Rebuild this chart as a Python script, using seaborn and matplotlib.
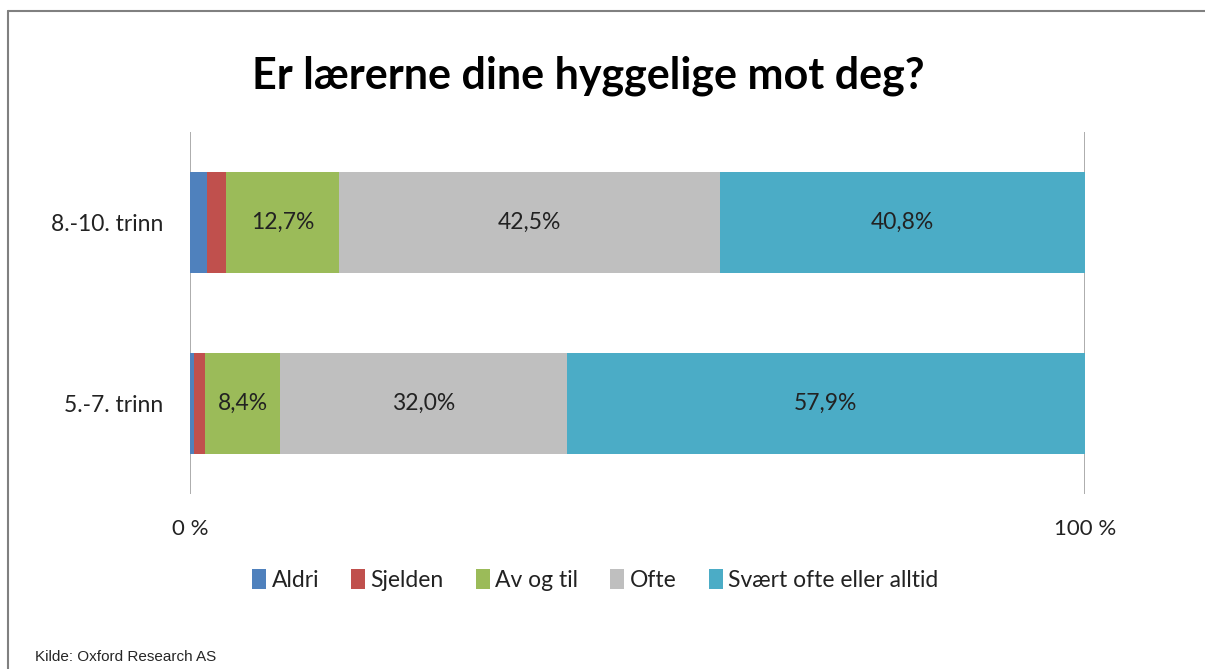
import matplotlib
matplotlib.use("Agg")
import matplotlib.pyplot as plt
import seaborn as sns
import pandas as pd
from matplotlib.lines import Line2D

# Chart data (percent)
grades = ["8.-10. trinn", "5.-7. trinn"]
categories = ["Aldri", "Sjelden", "Av og til", "Ofte", "Svært ofte eller alltid"]
aldri = [1.9, 0.4]
sjelden = [2.1, 1.3]
av_og_til = [12.7, 8.4]
ofte = [42.5, 32.0]
svaert = [40.8, 57.9]
colors = ["#4F81BD", "#C0504D", "#9BBB59", "#BFBFBF", "#4BACC6"]
labelled = ["Av og til", "Ofte", "Svært ofte eller alltid"]

sns.set_theme(style="white")
plt.rcParams["font.family"] = ["Lato", "DejaVu Sans"]

df = pd.DataFrame({"grade": grades, "Aldri": aldri, "Sjelden": sjelden,
                   "Av og til": av_og_til, "Ofte": ofte,
                   "Svært ofte eller alltid": svaert})
cum = df[categories].cumsum(axis=1)

fig = plt.figure(figsize=(12.05, 6.69), dpi=100)
ax = fig.add_axes([190 / 1205, 1 - 494 / 669, 895 / 1205, 362 / 669])

# stacked bars: draw cumulative totals from the back to the front
for cat, col in reversed(list(zip(categories, colors))):
    sns.barplot(x=cum[cat], y=df["grade"], color=col, saturation=1,
                width=0.56, orient="h", ax=ax, label=cat, linewidth=0)

# segment labels
for cat in labelled:
    for i, g in enumerate(grades):
        val = df.loc[i, cat]
        mid = cum.loc[i, cat] - val / 2
        ax.text(mid, i, f"{val:.1f}".replace(".", ",") + "%", ha="center",
                va="center", fontsize=16.5, color="#222222")

ax.set_xlim(0, 100)
ax.set_ylim(1.5, -0.5)
ax.set_xticks([0, 100])
ax.set_xticklabels(["0 %", "100 %"])
ax.set_xlabel("")
ax.set_ylabel("")
ax.xaxis.grid(True, color="#A6A6A6", linewidth=1.3)
ax.set_axisbelow(True)
for s in ax.spines.values():
    s.set_visible(False)
ax.tick_params(axis="x", length=0, pad=18, labelsize=16, labelcolor="#222222")
ax.tick_params(axis="y", length=0, pad=19, labelsize=16.5, labelcolor="#222222")

# legend in the original order
handles, labels = ax.get_legend_handles_labels()
order = [labels.index(c) for c in categories]
ax.legend([handles[k] for k in order], [labels[k] for k in order],
          loc="center", bbox_to_anchor=(0.494, 1 - 580 / 669),
          bbox_transform=fig.transFigure, ncol=5, frameon=False,
          fontsize=16.5, handlelength=0.6, handleheight=1.0,
          handletextpad=0.25, columnspacing=1.4, labelcolor="#222222")

fig.text(0.488, 1 - 76 / 669, "Er lærerne dine hyggelige mot deg?",
         ha="center", va="center", fontsize=31, fontweight="bold", color="black")
fig.text(35 / 1205, 1 - 657 / 669, "Kilde: Oxford Research AS", ha="left",
         va="center", fontsize=11,
         family=["Liberation Sans Narrow", "Liberation Sans", "DejaVu Sans"])

# outer frame (top and left edges visible)
fig.add_artist(Line2D([8 / 1205, 1.0], [1 - 11 / 669, 1 - 11 / 669],
                      transform=fig.transFigure, color="#808080", linewidth=1.5))
fig.add_artist(Line2D([8 / 1205, 8 / 1205], [0.0, 1 - 11 / 669],
                      transform=fig.transFigure, color="#808080", linewidth=1.5))

fig.savefig("out.png", dpi=100)
